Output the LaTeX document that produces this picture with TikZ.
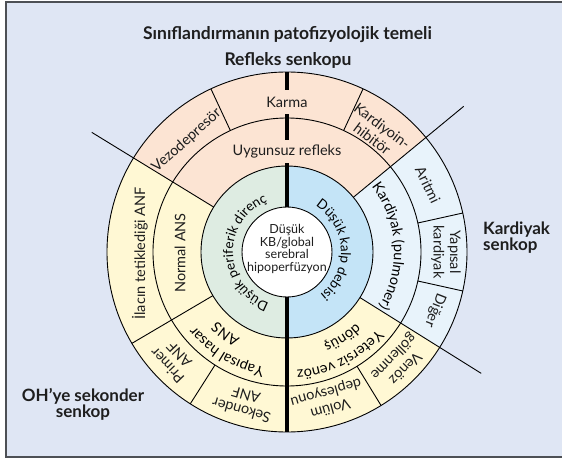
\documentclass[tikz,border=0pt]{standalone}
\usepackage{fontspec}
\setmainfont{Lato}
\usetikzlibrary{decorations.text}

\definecolor{bgblue}{HTML}{DFE6F4}
\definecolor{framegray}{HTML}{4D5055}
\definecolor{peach}{HTML}{FCE4D3}
\definecolor{cream}{HTML}{FFF8D4}
\definecolor{paleblue}{HTML}{E8F3FB}
\definecolor{midblue}{HTML}{C4E4F7}
\definecolor{sage}{HTML}{DEECE2}
\definecolor{ink}{HTML}{1E1E1E}

\newcommand\lblfont{\fontsize{14.5}{16.5}\selectfont}
\newcommand\arcfont{\fontsize{14.5}{14.5}\selectfont}
\newcommand\arcsmall{\fontsize{13.5}{13.5}\selectfont}
\newcommand\ttlfont{\bfseries\fontsize{17.5}{16}\selectfont}
\newcommand\sidefont{\bfseries\fontsize{17}{16}\selectfont}

\begin{document}
\begin{tikzpicture}[x=1pt,y=1pt,
    ring/.style={draw=black, line width=0.9pt},
    lbl/.style={font=\lblfont, text=ink, inner sep=0.5pt, align=center},
    ttl/.style={font=\ttlfont, text=ink, inner sep=0pt, align=center},
    side/.style={font=\sidefont, text=ink, inner sep=0pt},
    arclbl/.style={decorate, decoration={text along path, text align=center, text={|\arcfont|#1}}},
    arcin/.style={decorate, decoration={text along path, text align=center, text={|\arcsmall|#1}}}]
  \useasboundingbox (-287,252) rectangle (275,-208);
  \draw[fill=bgblue, draw=framegray, line width=2pt] (-280.5,249.5) rectangle (290,-205);

  % sectors
  \fill[peach] (0,0) -- (39.5:180) arc[start angle=39.5, end angle=148.5, radius=180] -- cycle;
  \fill[cream] (0,0) -- (148.5:180) arc[start angle=148.5, end angle=328, radius=180] -- cycle;
  \fill[paleblue] (0,0) -- (-32:180) arc[start angle=-32, end angle=39.5, radius=180] -- cycle;
  \fill[sage] (0,0) -- (90:86) arc[start angle=90, end angle=270, radius=86] -- cycle;
  \fill[midblue] (0,0) -- (-90:86) arc[start angle=-90, end angle=90, radius=86] -- cycle;

  \draw[ring] (0,0) circle[radius=180];
  \draw[ring] (0,0) circle[radius=134];
  \draw[ring] (0,0) circle[radius=86];
  \foreach \a in {148.5,39.5,-32}
    \draw[ring] (\a:86) -- (\a:229);
  \draw[ring] (210.5:86) -- (210.5:180);
  \foreach \a in {115,65,12.5,-12.5,237.5,301.5}
    \draw[ring] (\a:134) -- (\a:180);
  \draw[line width=4pt] (0,180) -- (0,-180);
  \draw[ring, fill=white] (0,0) circle[radius=45];

  % titles
  \node[ttl, anchor=base] (title) at (0.5,212.5) {Sınıflandırmanın patofizyolojik temeli};
  \node[ttl, anchor=base] (refleks) at (1,186.5) {Refleks senkopu};
  \node[side, align=left, anchor=north west] (kardiyak) at (196,30) {Kardiyak\\senkop};
  \node[side, align=center, anchor=north] (oh) at (-204,-136) {OH’ye sekonder\\senkop};

  % centre
  \node[lbl, font=\fontsize{12.5}{12.5}\selectfont] (kb) at (0,3) {Düşük\\KB/global\\serebral\\hipoperfüzyon};

  % inner ring
  \path[arcin={Düşük periferik direnç}] (261:54) arc[start angle=261, end angle=101, radius=54];
  \path[arcin={Düşük kalp debisi}] (83:54) arc[start angle=83, end angle=-77, radius=54];

  % middle ring
  \node[lbl, fill=peach, inner ysep=5pt] (uygunsuz) at (90:100.5) {Uygunsuz refleks};
  \node[lbl, rotate=90] (normal) at (180.5:107) {Normal ANS};
  \path[arclbl={Kardiyak (pulmoner)}] (46:107) arc[start angle=46, end angle=-39, radius=107];
  \path[arclbl={Yapısal hasar}] (269:118) arc[start angle=269, end angle=209, radius=118];
  \path[arclbl={ANS}] (263:98) arc[start angle=263, end angle=203, radius=98];
  \path[arclbl={Yetersiz venöz}] (327:119) arc[start angle=327, end angle=267, radius=119];
  \path[arclbl={dönüş}] (333:99) arc[start angle=333, end angle=273, radius=99];

  % outer ring
  \node[lbl, fill=peach, inner ysep=6.5pt] (karma) at (90:150) {Karma};
  \node[lbl, rotate=42] (vezo) at (132:150) {Vezodepresör};
  \node[lbl, rotate=-37] (inhib) at (53:150) {Kardiyoin-\\hibitör};
  \node[lbl, rotate=-64.5] (aritmi) at (25.5:156) {Aritmi};
  \node[lbl, rotate=-90] (yapisal) at (0:159) {Yapısal\\kardiyak};
  \node[lbl, rotate=-111.5] (diger) at (-21.5:159) {Diğer};
  \node[lbl, rotate=225.5] (gollenme) at (315.5:157) {Venöz\\göllenme};
  \node[lbl, rotate=195.5] (volum) at (285.5:154) {Volüm\\deplesyonu};
  \node[lbl, rotate=164] (sekonder) at (254:157) {Sekonder\\ANF};
  \node[lbl, rotate=133.5] (primer) at (223.5:157) {Primer\\ANF};
  \node[lbl, rotate=90] (ilac) at (180.5:147) {İlacın tetiklediği ANF};
\end{tikzpicture}
\end{document}
